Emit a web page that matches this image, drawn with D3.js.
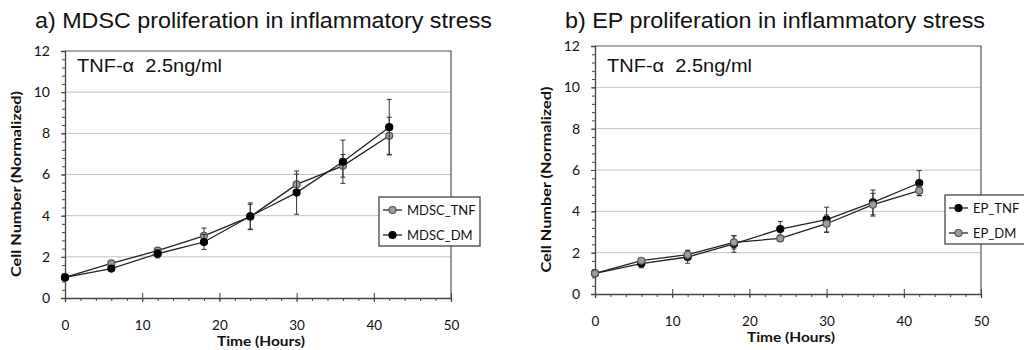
<!DOCTYPE html>
<html>
<head>
<meta charset="utf-8">
<script src="https://cdn.jsdelivr.net/npm/d3@7"></script>
<style>
  body { margin: 0; background: #fff; }
  svg { display: block; }
</style>
</head>
<body>
<svg id="chart"></svg>
<script>
// Set up the SVG canvas dimensions
const width = 1024;
const height = 350;

// Data
const hours = [0, 6, 12, 18, 24, 30, 36, 42];
const xTicks = [0, 10, 20, 30, 40, 50];
const yTicks = [0, 2, 4, 6, 8, 10, 12];

const mdscTnf = [1, 1.68, 2.3, 3.02, 3.95, 5.52, 6.42, 7.88];
const mdscTnfErr = [0.05, 0.1, 0.12, 0.38, 0.6, 0.5, 0.55, 0.9];
const mdscDm = [1, 1.43, 2.15, 2.72, 3.97, 5.12, 6.62, 8.3];
const mdscDmErr = [0.05, 0.08, 0.2, 0.36, 0.65, 1.05, 1.05, 1.35];

const epTnf = [1, 1.47, 1.79, 2.42, 3.14, 3.6, 4.43, 5.37];
const epTnfErr = [0.05, 0.2, 0.3, 0.4, 0.37, 0.6, 0.6, 0.6];
const epDm = [1, 1.61, 1.9, 2.5, 2.69, 3.4, 4.32, 5.0];
const epDmErr = [0.05, 0.1, 0.22, 0.32, 0.15, 0.42, 0.55, 0.25];

const svg = d3.select("#chart")
    .attr("width", width)
    .attr("height", height);

const tickFont = "Lato, 'DejaVu Sans', sans-serif";
const titleFont = "'Liberation Sans', Arial, sans-serif";

const grayMarker = { fill: "#9c9c9c", stroke: "#555" };
const blackMarker = { fill: "#000", stroke: "#000" };

function drawPanel(opts) {
    const x = d3.scaleLinear().domain([0, 50]).range([opts.left, opts.right]);
    const y = d3.scaleLinear().domain([0, 12]).range([opts.bottom, opts.top]);
    const g = svg.append("g");

    // title (the source image is a bit stretched sideways)
    g.append("text")
        .attr("x", opts.titleX)
        .attr("y", 27.7)
        .attr("font-family", titleFont)
        .attr("font-size", 21.4)
        .attr("fill", "#111")
        .attr("textLength", opts.titleW)
        .attr("lengthAdjust", "spacingAndGlyphs")
        .text(opts.title);

    // gridlines
    g.selectAll(".grid")
        .data(yTicks.filter(d => d > 0 && d < 12))
        .enter().append("line")
        .attr("x1", opts.left).attr("x2", opts.right)
        .attr("y1", d => y(d)).attr("y2", d => y(d))
        .attr("stroke", "#c4c4c4")
        .attr("stroke-width", 1);

    // frame top / right
    g.append("path")
        .attr("d", `M${opts.left},${opts.top}H${opts.right}V${opts.bottom}`)
        .attr("fill", "none")
        .attr("stroke", "#555")
        .attr("stroke-width", 1.2);

    // y axis: minor ticks, major ticks, labels
    g.append("g")
        .attr("transform", `translate(${opts.left},0)`)
        .call(d3.axisLeft(y).tickValues(d3.range(0, 12.01, 0.4)).tickSize(3).tickFormat(""))
        .call(a => a.select(".domain").remove());
    g.append("g")
        .attr("transform", `translate(${opts.left},0)`)
        .call(d3.axisLeft(y).tickValues(yTicks).tickSize(4).tickPadding(11))
        .call(a => a.select(".domain").attr("stroke", "#444").attr("stroke-width", 1.3))
        .call(a => a.selectAll("text").attr("font-family", tickFont).attr("font-size", 14).attr("fill", "#111"));

    // x axis: minor ticks, major ticks crossing, labels
    g.append("g")
        .attr("transform", `translate(0,${opts.bottom})`)
        .call(d3.axisBottom(x).tickValues(d3.range(0, 51, 2)).tickSize(3).tickFormat(""))
        .call(a => a.select(".domain").remove());
    g.append("g")
        .attr("transform", `translate(0,${opts.bottom})`)
        .call(d3.axisBottom(x).tickValues(xTicks).tickSize(-5).tickFormat(""))
        .call(a => a.select(".domain").remove());
    g.append("g")
        .attr("transform", `translate(0,${opts.bottom})`)
        .call(d3.axisBottom(x).tickValues(xTicks).tickSize(4).tickPadding(18))
        .call(a => a.select(".domain").attr("stroke", "#444").attr("stroke-width", 1.3))
        .call(a => a.selectAll("text").attr("font-family", tickFont).attr("font-size", 13.5).attr("fill", "#111"));
    g.selectAll(".tick line").attr("stroke", "#444");

    // axis titles
    g.append("text")
        .attr("x", (opts.left + opts.right) / 2 + 3)
        .attr("y", opts.bottom + 47.5)
        .attr("text-anchor", "middle")
        .attr("font-family", tickFont)
        .attr("font-weight", "bold")
        .attr("font-size", 13)
        .attr("fill", "#111")
        .attr("textLength", 88)
        .attr("lengthAdjust", "spacingAndGlyphs")
        .text("Time (Hours)");
    g.append("text")
        .attr("transform", `translate(${opts.left - 44},${(opts.top + opts.bottom) / 2 + 9.5}) rotate(-90)`)
        .attr("text-anchor", "middle")
        .attr("font-family", tickFont)
        .attr("font-weight", "bold")
        .attr("font-size", 14)
        .attr("fill", "#111")
        .attr("textLength", 186)
        .attr("lengthAdjust", "spacingAndGlyphs")
        .text("Cell Number (Normalized)");

    // annotation
    g.append("text")
        .attr("x", opts.left + 12)
        .attr("y", 71.6)
        .attr("font-family", titleFont)
        .attr("font-size", 18.5)
        .attr("fill", "#111")
        .attr("textLength", 145)
        .attr("lengthAdjust", "spacingAndGlyphs")
        .text("TNF-\u03b1\u00a0\u00a02.5ng/ml");

    // series
    const line = d3.line().x((d, i) => x(hours[i])).y(d => y(d));
    opts.series.forEach(s => {
        const sg = g.append("g");
        // error bars
        sg.selectAll(".err")
            .data(s.values)
            .enter().append("path")
            .attr("d", (d, i) => {
                const cx = x(hours[i]), lo = y(d - s.err[i]), hi = y(d + s.err[i]);
                return `M${cx - 2.5},${hi}H${cx + 2.5}M${cx},${hi}V${lo}M${cx - 2.5},${lo}H${cx + 2.5}`;
            })
            .attr("stroke", "#333")
            .attr("stroke-width", 1)
            .attr("fill", "none");
        sg.append("path")
            .attr("d", line(s.values))
            .attr("fill", "none")
            .attr("stroke", "#222")
            .attr("stroke-width", 1.3);
        sg.selectAll("circle")
            .data(s.values)
            .enter().append("circle")
            .attr("cx", (d, i) => x(hours[i]))
            .attr("cy", d => y(d))
            .attr("r", 3.5)
            .attr("fill", s.marker.fill)
            .attr("stroke", s.marker.stroke)
            .attr("stroke-width", 1.2);
    });

    // legend
    const lg = g.append("g").attr("transform", `translate(${opts.legend.x},${opts.legend.y})`);
    lg.append("rect")
        .attr("width", opts.legend.w)
        .attr("height", 49)
        .attr("fill", "#fff")
        .attr("stroke", "#444")
        .attr("stroke-width", 1.3);
    opts.series.forEach((s, i) => {
        const ly = 13 + i * 25;
        lg.append("line")
            .attr("x1", 4).attr("x2", 23)
            .attr("y1", ly).attr("y2", ly)
            .attr("stroke", "#222").attr("stroke-width", 1.3);
        lg.append("circle")
            .attr("cx", 13.5).attr("cy", ly).attr("r", 3.5)
            .attr("fill", s.marker.fill)
            .attr("stroke", s.marker.stroke)
            .attr("stroke-width", 1.2);
        lg.append("text")
            .attr("x", 28).attr("y", ly + 5)
            .attr("font-family", tickFont)
            .attr("font-size", 13)
            .attr("fill", "#111")
            .text(s.name);
    });
}

drawPanel({
    title: "a) MDSC proliferation in inflammatory stress",
    titleX: 35, titleW: 457,
    left: 65, right: 451, top: 51, bottom: 298,
    legend: { x: 379, y: 197, w: 101 },
    series: [
        { name: "MDSC_TNF", values: mdscTnf, err: mdscTnfErr, marker: grayMarker },
        { name: "MDSC_DM", values: mdscDm, err: mdscDmErr, marker: blackMarker }
    ]
});

drawPanel({
    title: "b) EP proliferation in inflammatory stress",
    titleX: 565, titleW: 420,
    left: 595, right: 981, top: 46, bottom: 294,
    legend: { x: 945, y: 195, w: 85 },
    series: [
        { name: "EP_TNF", values: epTnf, err: epTnfErr, marker: blackMarker },
        { name: "EP_DM", values: epDm, err: epDmErr, marker: grayMarker }
    ]
});
</script>
</body>
</html>
